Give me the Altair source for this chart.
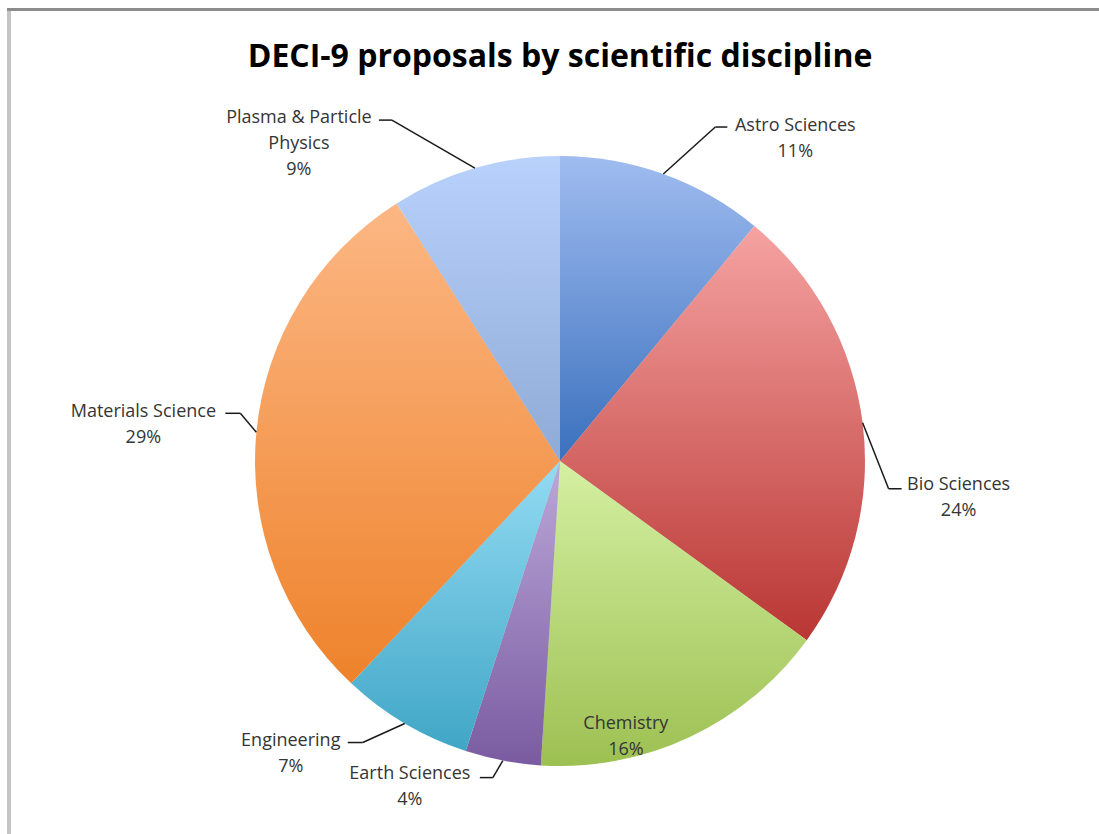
import altair as alt
import pandas as pd

# Proposal shares per discipline (percent), clockwise from 12 o'clock
categories = ["Astro Sciences", "Bio Sciences", "Chemistry", "Earth Sciences",
              "Engineering", "Materials Science", "Plasma & Particle Physics"]
shares = [11, 24, 16, 4, 7, 29, 9]
label_names = ["Astro Sciences", "Bio Sciences", "Chemistry", "Earth Sciences",
               "Engineering", "Materials Science", "Plasma & Particle\nPhysics"]

# Vertical gradient of each slice: light top, dark bottom
fill_top = ["#a0bcf0", "#f5a3a2", "#d4f0a2", "#bba8d9", "#93dbf3", "#fcb784", "#b8d2fc"]
fill_bottom = ["#3a70bd", "#b93633", "#9dc052", "#7a5ba1", "#40a6c6", "#ee822b", "#8eaad6"]

# Label layout: elbow offset from the slice rim, horizontal tail, text offset from tail end
elbow_dx = [52, 26, 0, -10, -42, -16, -83]
elbow_dy = [-47, 66, 0, 17, 19, -19, -48]
tail_len = [12, 13, 0, -13, -15, -15, -13]
text_dx = [68, 57, -64, -70, -57, -82, -80]
text_dy = [-1, -4, -13, -4, -2, -1, -2]
has_leader = [True, True, False, True, True, True, True]

CX, CY, R = 560, 461, 305
W, H = 1099, 834
FONT = "Open Sans"

df = pd.DataFrame({
    "idx": list(range(len(categories))),
    "category": categories,
    "share": shares,
    "name": label_names,
    "elbow_dx": elbow_dx,
    "elbow_dy": elbow_dy,
    "tail": tail_len,
    "text_dx": text_dx,
    "text_dy": text_dy,
    "leader": has_leader,
})

base = (
    alt.Chart(df)
    .transform_window(cum="sum(share)", sort=[alt.SortField("idx")], frame=[None, 0])
    .transform_calculate(
        start="datum.cum - datum.share",
        mid="datum.cum - datum.share / 2",
    )
    .transform_calculate(ang="datum.mid / 100 * 2 * PI")
    .transform_calculate(
        ex=f"{CX} + {R} * sin(datum.ang)",
        ey=f"{CY} - {R} * cos(datum.ang)",
    )
    .transform_calculate(bx="datum.ex + datum.elbow_dx", by="datum.ey + datum.elbow_dy")
    .transform_calculate(tx="datum.bx + datum.tail")
    .transform_calculate(
        lx="datum.tx + datum.text_dx",
        ly="datum.by + datum.text_dy",
        txt="datum.name + '\\n' + datum.share + '%'",
    )
)

theta_scale = alt.Scale(domain=[0, 100], range=[0, 6.283185307179586])

one = pd.DataFrame({"k": [0]})

# Soft shadow under the pie
shadow = alt.layer(
    alt.Chart(one).mark_circle(size=3.14159 * (R + 3) ** 2, color="#000000", opacity=0.06).encode(
        x=alt.value(CX - 1), y=alt.value(CY + 3)
    ),
    alt.Chart(one).mark_circle(size=3.14159 * (R + 1) ** 2, color="#000000", opacity=0.10).encode(
        x=alt.value(CX - 1), y=alt.value(CY + 2)
    ),
)

slices = []
for i in range(len(categories)):
    grad = alt.LinearGradient(
        gradient="linear",
        stops=[alt.GradientStop(color=fill_top[i], offset=0),
               alt.GradientStop(color=fill_bottom[i], offset=1)],
        x1=0, y1=0, x2=0, y2=1,
    )
    slices.append(
        base.transform_filter(f"datum.idx == {i}")
        .mark_arc(outerRadius=R, fill=grad, strokeWidth=0)
        .encode(
            theta=alt.Theta("start:Q", stack=None, scale=theta_scale),
            theta2="cum:Q",
            x=alt.value(CX),
            y=alt.value(CY),
        )
    )

leaders = base.transform_filter("datum.leader")
leg1 = leaders.mark_rule(color="#1a1a1a", strokeWidth=1.5).encode(
    x=alt.X("ex:Q", scale=None), y=alt.Y("ey:Q", scale=None),
    x2="bx:Q", y2="by:Q",
)
leg2 = leaders.mark_rule(color="#1a1a1a", strokeWidth=1.5).encode(
    x=alt.X("bx:Q", scale=None), y=alt.Y("by:Q", scale=None),
    x2="tx:Q", y2="by:Q",
)

labels = base.mark_text(
    font=FONT, fontSize=18, color="#353535", align="center", baseline="middle",
    lineBreak="\n", lineHeight=26,
).encode(
    x=alt.X("lx:Q", scale=None),
    y=alt.Y("ly:Q", scale=None),
    text="txt:N",
)

title = alt.Chart(pd.DataFrame({"t": ["DECI-9 proposals by scientific discipline"]})).mark_text(
    font=FONT, fontSize=32, fontWeight="bold", color="#000000", align="center", baseline="middle"
).encode(x=alt.value(560), y=alt.value(57), text="t:N")

# Chart frame (top and left edges of the bordered area)
frame_top = alt.Chart(one).mark_rule(color="#8c8c8c", strokeWidth=3).encode(
    x=alt.value(7), x2=alt.value(W), y=alt.value(9.5)
)
frame_left = alt.Chart(one).mark_rule(color="#c4c4c4", strokeWidth=4).encode(
    x=alt.value(9), y=alt.value(11), y2=alt.value(H)
)

chart = alt.layer(
    shadow, *slices, leg1, leg2, labels, title, frame_top, frame_left
).properties(
    width=W, height=H, padding=0, autosize=alt.AutoSizeParams(type="none"),
    background="#ffffff",
).configure_view(stroke=None)

chart.save("out.html", embed_options={"renderer": "svg", "actions": False})
